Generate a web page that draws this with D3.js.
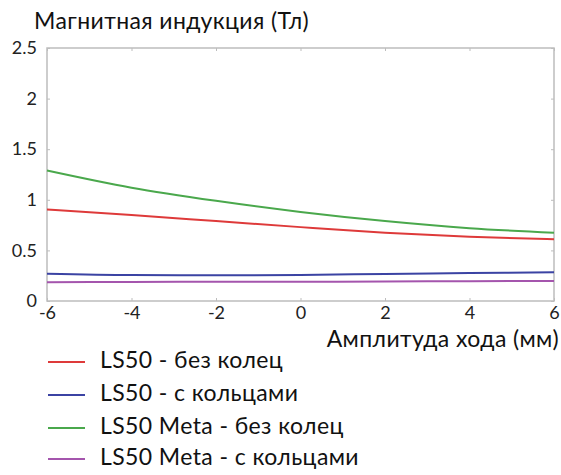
<!DOCTYPE html>
<html>
<head>
<meta charset="utf-8">
<script src="https://cdn.jsdelivr.net/npm/d3@7"></script>
<style>
  html, body { margin: 0; padding: 0; background: #fff; }
  svg { display: block; font-family: Lato, "Open Sans", sans-serif; }
</style>
</head>
<body>
<svg id="chart" width="561" height="475"></svg>
<script>
// Stroke amplitude (mm)
const stroke = [-6, -4, -2, 0, 2, 4, 6];
// Magnetic induction (T) per configuration
const ls50NoRings = [0.905, 0.85, 0.79, 0.73, 0.675, 0.635, 0.61];
const ls50Rings = [0.27, 0.257, 0.255, 0.257, 0.268, 0.276, 0.285];
const metaNoRings = [1.29, 1.12, 0.99, 0.88, 0.79, 0.72, 0.675];
const metaRings = [0.185, 0.188, 0.19, 0.19, 0.192, 0.196, 0.198];

const seriesNames = ["LS50 - без колец", "LS50 - с кольцами", "LS50 Meta - без колец", "LS50 Meta - с кольцами"];
const seriesColors = ["#de3a3a", "#3b43a3", "#4aa84c", "#a455ad"];
const seriesValues = [ls50NoRings, ls50Rings, metaNoRings, metaRings];

const xTicks = [-6, -4, -2, 0, 2, 4, 6];
const yTicks = [0, 0.5, 1, 1.5, 2, 2.5];

const svg = d3.select("#chart");
const plotL = 47, plotR = 554, plotT = 48, plotB = 301;

const x = d3.scaleLinear().domain([-6, 6]).range([plotL, plotR]);
const y = d3.scaleLinear().domain([0, 2.5]).range([plotB, plotT]);

const axisColor = "#bdbdbd";
const tickFont = 18;
const labelFont = 23;
const labelSpacing = 0.4;

// Frame
svg.append("rect")
  .attr("x", plotL).attr("y", plotT)
  .attr("width", plotR - plotL).attr("height", plotB - plotT)
  .attr("fill", "none").attr("stroke", axisColor).attr("stroke-width", 1.5);

// Bottom axis
const gx = svg.append("g").attr("transform", `translate(0,${plotB})`)
  .call(d3.axisBottom(x).tickValues(xTicks).tickSizeInner(-3).tickSizeOuter(0)
    .tickPadding(5).tickFormat(d => d < 0 ? "-" + Math.abs(d) : String(d)));
gx.select(".domain").remove();
gx.selectAll(".tick line").attr("stroke", axisColor);
gx.selectAll(".tick text").attr("font-size", tickFont).attr("fill", "#222")
  .attr("font-family", "Lato, sans-serif");

// Top inner ticks
const gxt = svg.append("g").attr("transform", `translate(0,${plotT})`)
  .call(d3.axisTop(x).tickValues(xTicks).tickSizeInner(-3).tickSizeOuter(0).tickFormat(""));
gxt.select(".domain").remove();
gxt.selectAll(".tick line").attr("stroke", axisColor);

// Left axis
const gy = svg.append("g").attr("transform", `translate(${plotL},0)`)
  .call(d3.axisLeft(y).tickValues(yTicks).tickSizeInner(-3).tickSizeOuter(0)
    .tickPadding(10).tickFormat(d3.format("")));
gy.select(".domain").remove();
gy.selectAll(".tick line").attr("stroke", axisColor);
gy.selectAll(".tick text").attr("font-size", tickFont).attr("fill", "#222")
  .attr("font-family", "Lato, sans-serif");

// Right inner ticks
const gyr = svg.append("g").attr("transform", `translate(${plotR},0)`)
  .call(d3.axisRight(y).tickValues(yTicks).tickSizeInner(-3).tickSizeOuter(0).tickFormat(""));
gyr.select(".domain").remove();
gyr.selectAll(".tick line").attr("stroke", axisColor);

// Series lines
const line = d3.line()
  .x((d, i) => x(stroke[i]))
  .y(d => y(d))
  .curve(d3.curveMonotoneX);

seriesValues.forEach((vals, k) => {
  svg.append("path")
    .datum(vals)
    .attr("d", line)
    .attr("fill", "none")
    .attr("stroke", seriesColors[k])
    .attr("stroke-width", 2);
});

// Axis titles
svg.append("text")
  .attr("x", 34).attr("y", 29)
  .attr("font-size", labelFont).attr("letter-spacing", labelSpacing).attr("fill", "#111")
  .text("Магнитная индукция (Тл)");

svg.append("text")
  .attr("x", 559).attr("y", 347)
  .attr("text-anchor", "end")
  .attr("font-size", labelFont).attr("letter-spacing", labelSpacing).attr("fill", "#111")
  .text("Амплитуда хода (мм)");

// Legend
const legend = svg.append("g");
const legendY = [362, 395, 428, 459];
seriesNames.forEach((name, k) => {
  legend.append("line")
    .attr("x1", 48).attr("x2", 85)
    .attr("y1", legendY[k]).attr("y2", legendY[k])
    .attr("stroke", seriesColors[k]).attr("stroke-width", 2);
  legend.append("text")
    .attr("x", 100).attr("y", legendY[k] + 6)
    .attr("font-size", labelFont).attr("letter-spacing", labelSpacing).attr("fill", "#111")
    .text(name);
});
</script>
</body>
</html>
